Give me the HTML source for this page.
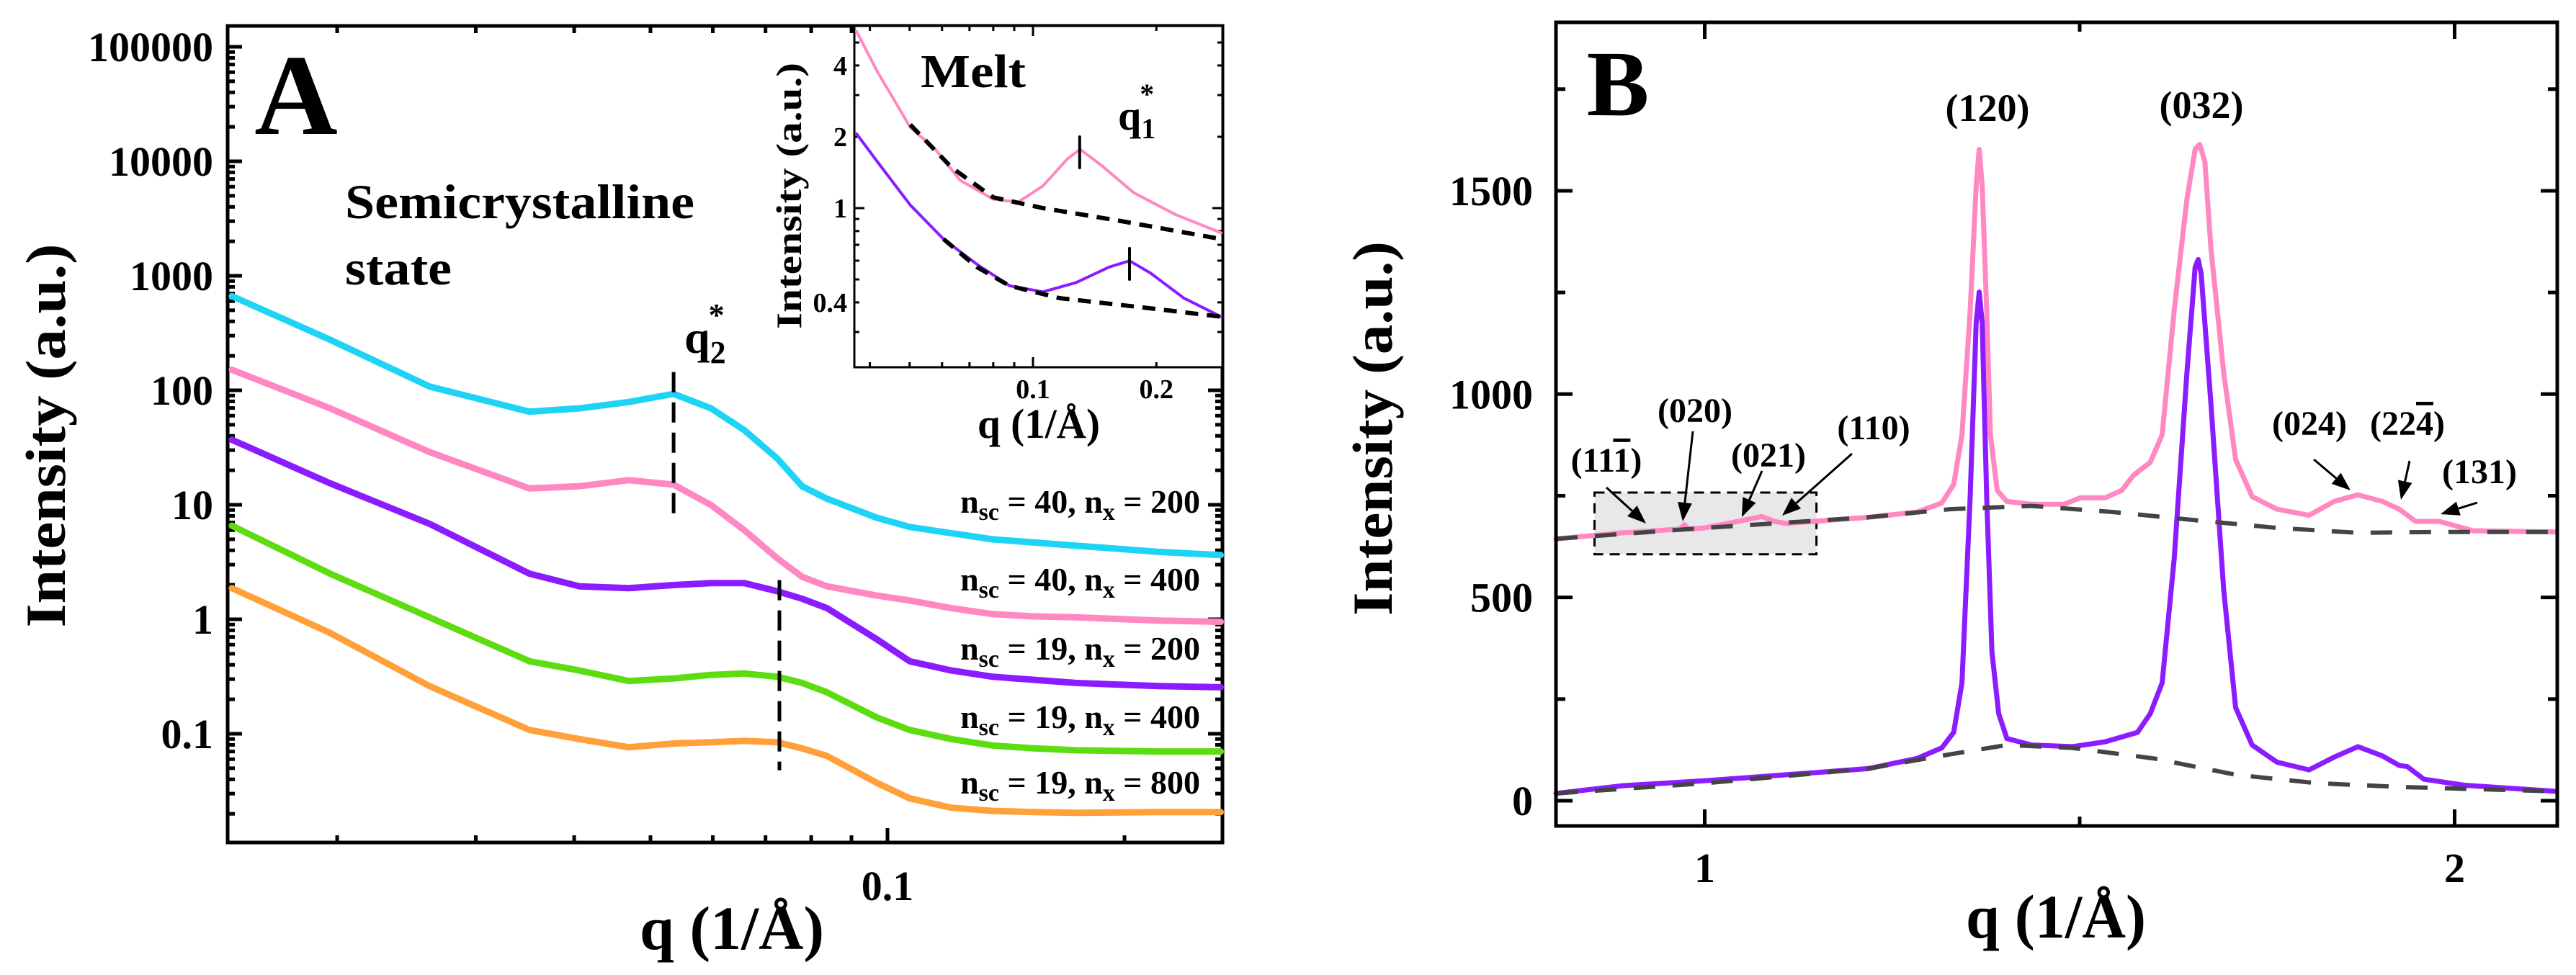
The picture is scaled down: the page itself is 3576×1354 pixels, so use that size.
<!DOCTYPE html>
<html><head><meta charset="utf-8"><title>SAXS/WAXS chart</title>
<style>
html,body{margin:0;padding:0;background:#fff;}
svg{display:block;font-family:"Liberation Serif","DejaVu Serif",serif;font-weight:bold;}
</style></head>
<body>
<svg id="fig" width="3576" height="1354" viewBox="0 0 3576 1354" xmlns="http://www.w3.org/2000/svg">
<rect x="0" y="0" width="3576" height="1354" fill="#fff"/>
<g id="gA"></g>
<g id="gI"></g>
<g id="gB"></g>
</svg>
<script>
// ---------- Panel A data ----------
const qA = [0.0147,0.0196,0.0262,0.0351,0.0406,0.0469,0.0535,0.0597,0.0658,0.0724,0.0779,0.0838,0.0969,0.1067,0.1205,0.136,0.1536,0.1734,0.2208,0.265];
const cyanA   = [665,276,108,65,69.5,79,93,69.5,44.8,25.5,14.5,11.3,7.7,6.4,5.65,4.99,4.68,4.4,3.88,3.64];
const pinkA   = [151,69.5,28.9,13.9,14.5,16.4,15.0,9.94,6.0,3.42,2.35,1.94,1.61,1.46,1.25,1.11,1.06,1.04,0.975,0.95];
const purpleA = [37,15.4,6.82,2.5,1.94,1.87,1.99,2.07,2.07,1.76,1.51,1.25,0.67,0.43,0.357,0.315,0.296,0.278,0.261,0.255];
const greenA  = [6.57,2.5,1.04,0.43,0.357,0.289,0.304,0.327,0.336,0.315,0.278,0.230,0.139,0.108,0.090,0.079,0.0745,0.0718,0.070,0.070];
const orangeA = [1.87,0.759,0.261,0.108,0.090,0.0763,0.0823,0.0844,0.0866,0.0844,0.0745,0.064,0.0373,0.0273,0.0226,0.0212,0.0207,0.0204,0.0207,0.0207];
const legendA = ["40|200","40|400","19|200","19|400","19|800"];
const yTicksA = [0.1,1,10,100,1000,10000,100000];
const yTickLabelsA = ["0.1","1","10","100","1000","10000","100000"];
const xTicksA = [0.1];
const xTickLabelsA = ["0.1"];
// ---------- Inset data ----------
const qInset = [0.0371,0.0417,0.0458,0.0502,0.0578,0.0664,0.080,0.092,0.1057,0.1216,0.1303,0.1465,0.1763,0.2224,0.2877];
const pinkInset = [5.57,3.77,2.87,2.19,1.77,1.31,1.09,1.06,1.24,1.62,1.77,1.52,1.16,0.94,0.786];
const qInsetP = [0.0371,0.0417,0.0502,0.0605,0.0729,0.0877,0.1057,0.1274,0.1535,0.172,0.1937,0.2334,0.2877];
const purpleInset = [2.06,1.57,1.03,0.74,0.58,0.47,0.443,0.485,0.564,0.599,0.531,0.417,0.348];
const qDashPink = [0.0502,0.0634,0.080,0.1057,0.1607,0.2877];
const dashPink = [2.25,1.48,1.11,1.0,0.887,0.74];
const qDashPurple = [0.0605,0.0729,0.0877,0.116,0.185,0.2877];
const dashPurple = [0.74,0.564,0.47,0.417,0.381,0.348];
const yTicksInset = [0.4,1,2,4];
const yTickLabelsInset = ["0.4","1","2","4"];
const xTicksInset = [0.1,0.2];
const xTickLabelsInset = ["0.1","0.2"];
// ---------- Panel B data ----------
const qBpink = [0.8017,0.891,0.967,0.973,0.978,1.0,1.044,1.076,1.093,1.109,1.218,1.283,1.316,1.332,1.343,1.354,1.362,1.366,1.370,1.376,1.381,1.390,1.403,1.436,1.479,1.501,1.534,1.556,1.572,1.594,1.610,1.626,1.643,1.654,1.660,1.667,1.675,1.692,1.708,1.730,1.763,1.806,1.839,1.871,1.904,1.926,1.948,1.980,2.024,2.136];
const pinkB = [644,659,668,679,668,671,687,699,687,682,697,710,732,778,900,1206,1511,1602,1511,1206,900,763,736,729,729,745,745,763,801,832,900,1206,1480,1602,1614,1572,1358,1053,839,748,717,702,736,752,736,717,687,687,664,661];
const qBpurple = [0.8017,0.891,1.0,1.109,1.218,1.283,1.316,1.332,1.343,1.354,1.362,1.366,1.370,1.376,1.383,1.392,1.403,1.436,1.490,1.534,1.577,1.594,1.610,1.626,1.643,1.654,1.658,1.662,1.675,1.692,1.708,1.730,1.763,1.806,1.839,1.871,1.904,1.926,1.937,1.959,2.013,2.136];
const purpleB = [18,37,49,64,79,104,130,168,290,748,1175,1251,1175,748,366,214,153,137,133,145,168,214,290,595,1053,1312,1331,1297,977,519,229,137,95,76,107,133,110,87,84,53,38,23];
const qDashB1 = [0.8017,1.0,1.218,1.327,1.436,1.545,1.654,1.763,1.871,1.980,2.136];
const dashB1 = [644,671,697,717,725,710,690,671,659,661,661];
const qDashB2 = [0.8017,1.0,1.218,1.327,1.403,1.490,1.599,1.708,1.817,1.926,2.136];
const dashB2 = [18,43,79,114,137,130,104,64,43,34,23];
const yTicksB = [0,500,1000,1500];
const yTickLabelsB = ["0","500","1000","1500"];
const xTicksB = [1,2];
const xTickLabelsB = ["1","2"];

// ---------- scales ----------
const L10 = Math.log10;
const A = {l:316,r:1697,t:36,b:1170};
const xA = q => 1232 + (L10(q)+1)*1093;
const yA = v => 65 + (5-L10(v))*159;
const I = {l:1186,r:1697,t:36,b:510};
const xI = q => 1434 + (L10(q)+1)*569;
const yI = v => 289 - L10(v)*329;
const B = {l:2160,r:3550,t:31,b:1147};
const xB = q => 2366.5 + (q-1)*1041;
const yB = v => 1112 - v*0.5647;

const NS = "http://www.w3.org/2000/svg";
function mk(parent, tag, attrs){
  const e = document.createElementNS(NS, tag);
  for (const k in attrs) e.setAttribute(k, attrs[k]);
  parent.appendChild(e);
  return e;
}
function pathD(xs, ys, fx, fy){
  return xs.map((q,i)=>(i?'L':'M')+fx(q).toFixed(1)+' '+fy(ys[i]).toFixed(1)).join(' ');
}
const gA = document.getElementById('gA');
const gI = document.getElementById('gI');
const gB = document.getElementById('gB');

function line(g, x1,y1,x2,y2,w,name){
  const e = mk(g,'line',{x1:x1,y1:y1,x2:x2,y2:y2,stroke:'#000','stroke-width':w});
  
  
  return e;
}
function text(g, x, y, s, size, anchor, name){
  const e = mk(g,'text',{x:x,y:y,'font-size':size,'text-anchor':anchor||'middle',fill:'#000'});
  e.textContent = s;
  
  
  return e;
}
function series(g, xs, ys, fx, fy, color, w, name, dash){
  const e = mk(g,'path',{d:pathD(xs,ys,fx,fy),fill:'none',stroke:color,'stroke-width':w,'stroke-linejoin':'round','stroke-linecap':dash?'butt':'round'});
  if (dash) e.setAttribute('stroke-dasharray', dash);
  
  
  return e;
}

// ===== Panel A =====
for (let d=-2; d<=5; d++){
  for (let m=1; m<=9; m++){
    const v = m*Math.pow(10,d);
    const y = yA(v);
    if (y < A.t+3 || y > A.b-3) continue;
    const len = m===1 ? 20 : 10;
    line(gA, A.l, y, A.l+len, y, 5, 'y-tick');
    line(gA, A.r-len, y, A.r, y, 5, 'y-tick-right');
  }
}
[0.02,0.03,0.04,0.05,0.06,0.07,0.08,0.09,0.1,0.2].forEach(q=>{
  const x = xA(q); const len = q===0.1 ? 20 : 10;
  line(gA, x, A.b, x, A.b-len, 5, 'x-tick');
  line(gA, x, A.t, x, A.t+len, 5, 'x-tick-top');
});
yTicksA.forEach((v,i)=>{ text(gA, 296, yA(v)+20, yTickLabelsA[i], 58, 'end', 'y-tick-label'); });
xTicksA.forEach((q,i)=>{ text(gA, xA(q), 1250, xTickLabelsA[i], 58, 'middle', 'x-tick-label'); });
const fa = mk(gA,'rect',{x:A.l,y:A.t,width:A.r-A.l,height:A.b-A.t,fill:'none',stroke:'#000','stroke-width':5});



series(gA, qA, cyanA, xA, yA, '#1fd3f5', 9, 'series-nsc40-nx200');
series(gA, qA, pinkA, xA, yA, '#ff88c2', 9, 'series-nsc40-nx400');
series(gA, qA, purpleA, xA, yA, '#8a1cff', 9, 'series-nsc19-nx200');
series(gA, qA, greenA, xA, yA, '#5edc12', 9, 'series-nsc19-nx400');
series(gA, qA, orangeA, xA, yA, '#ffa038', 9, 'series-nsc19-nx800');

series(gA, [0.0535,0.0535], [144,7.7], xA, yA, '#000', 5, 'q2-marker-1', '28 14');
series(gA, [0.0729,0.0729], [2.2,0.048], xA, yA, '#000', 5, 'q2-marker-2', '28 14');

text(gA, 411, 186, 'A', 160, 'middle', 'panel-label-a');
const t1 = text(gA, 479, 303, 'Semicrystalline', 68, 'start', 'annotation-semicrystalline');
t1.setAttribute('textLength','485'); t1.setAttribute('lengthAdjust','spacingAndGlyphs');
const t2 = text(gA, 479, 395, 'state', 68, 'start', 'annotation-state');
t2.setAttribute('textLength','148'); t2.setAttribute('lengthAdjust','spacingAndGlyphs');
const q2 = mk(gA,'text',{x:950,y:490,'font-size':64,'text-anchor':'start'});
q2.innerHTML = 'q<tspan dy="14" font-size="44">2</tspan><tspan dx="-24" dy="-52" font-size="44">*</tspan>';



const legY = [712, 820, 916, 1011, 1102];
legendA.forEach((s,i)=>{
  const [nsc,nx] = s.split('|');
  const e = mk(gA,'text',{x:1666,y:legY[i],'font-size':46,'text-anchor':'end'});
  e.innerHTML = 'n<tspan dy="10" font-size="34">sc</tspan><tspan dy="-10"> = '+nsc+', n</tspan><tspan dy="10" font-size="34">x</tspan><tspan dy="-10"> = '+nx+'</tspan>';
  
  
});
const ya = text(gA, 0, 0, 'Intensity (a.u.)', 78, 'middle', 'y-axis-title-a');
ya.setAttribute('transform','translate(90,605) rotate(-90)');
ya.setAttribute('textLength','533'); ya.setAttribute('lengthAdjust','spacingAndGlyphs');
const xa = text(gA, 1016, 1318, 'q (1/Å)', 86, 'middle', 'x-axis-title-a');
xa.setAttribute('textLength','256'); xa.setAttribute('lengthAdjust','spacingAndGlyphs');

// ===== Inset =====
const ib = mk(gI,'rect',{x:I.l,y:I.t,width:I.r-I.l,height:I.b-I.t,fill:'#fff',stroke:'#000','stroke-width':3});


[0.3,0.4,0.5,0.6,0.7,0.8,0.9,1,2,3,4,5].forEach(v=>{
  const y = yI(v); if (y<I.t+2||y>I.b-2) return;
  const len = (v===1)?14:7;
  line(gI, I.l, y, I.l+len, y, 3, 'inset-y-tick');
  line(gI, I.r-len, y, I.r, y, 3, 'inset-y-tick-right');
});
[0.04,0.05,0.06,0.07,0.08,0.09,0.1,0.2].forEach(q=>{
  const x = xI(q); const len = q===0.1?14:7;
  line(gI, x, I.b, x, I.b-len, 3, 'inset-x-tick');
  line(gI, x, I.t, x, I.t+len, 3, 'inset-x-tick-top');
});
yTicksInset.forEach((v,i)=>{ text(gI, 1176, yI(v)+13, yTickLabelsInset[i], 38, 'end', 'inset-y-tick-label'); });
xTicksInset.forEach((q,i)=>{ text(gI, xI(q), 553, xTickLabelsInset[i], 38, 'middle', 'inset-x-tick-label'); });
series(gI, qInset, pinkInset, xI, yI, '#ff88c2', 4, 'inset-series-pink');
series(gI, qInsetP, purpleInset, xI, yI, '#8a1cff', 4, 'inset-series-purple');
series(gI, qDashPink, dashPink, xI, yI, '#000', 6, 'inset-fit-pink', '18 12');
series(gI, qDashPurple, dashPurple, xI, yI, '#000', 6, 'inset-fit-purple', '18 12');
series(gI, [0.130,0.130], [2.0,1.48], xI, yI, '#000', 4, 'q1-marker-pink');
series(gI, [0.172,0.172], [0.676,0.50], xI, yI, '#000', 4, 'q1-marker-purple');
const mt = text(gI, 1278, 121, 'Melt', 66, 'start', 'inset-label-melt');
mt.setAttribute('textLength','146'); mt.setAttribute('lengthAdjust','spacingAndGlyphs');
const q1 = mk(gI,'text',{x:1552,y:180,'font-size':58,'text-anchor':'start'});
q1.innerHTML = 'q<tspan dy="12" font-size="40">1</tspan><tspan dx="-22" dy="-48" font-size="40">*</tspan>';


const yi = text(gI, 0, 0, 'Intensity (a.u.)', 50, 'middle', 'inset-y-axis-title');
yi.setAttribute('transform','translate(1112,272) rotate(-90)');
yi.setAttribute('textLength','370'); yi.setAttribute('lengthAdjust','spacingAndGlyphs');
const xi = text(gI, 1442, 608, 'q (1/Å)', 58, 'middle', 'inset-x-axis-title');
xi.setAttribute('textLength','170'); xi.setAttribute('lengthAdjust','spacingAndGlyphs');

// ===== Panel B =====
const box = mk(gB,'rect',{x:xB(0.853),y:yB(758),width:xB(1.149)-xB(0.853),height:yB(606)-yB(758),fill:'#e8e8e8',stroke:'#000','stroke-width':3,'stroke-dasharray':'14 9'});


[0,250,500,750,1000,1250,1500,1750].forEach(v=>{
  const y = yB(v); const len = (v%500===0)?23:13;
  line(gB, B.l, y, B.l+len, y, 5, 'y-tick');
  line(gB, B.r-len, y, B.r, y, 5, 'y-tick-right');
});
[1,1.5,2].forEach(q=>{
  const x = xB(q); const len = (q%1===0)?23:13;
  line(gB, x, B.b, x, B.b-len, 5, 'x-tick');
  line(gB, x, B.t, x, B.t+len, 5, 'x-tick-top');
});
yTicksB.forEach((v,i)=>{ text(gB, 2128, yB(v)+20, yTickLabelsB[i], 58, 'end', 'y-tick-label'); });
xTicksB.forEach((q,i)=>{ text(gB, xB(q), 1225, xTickLabelsB[i], 58, 'middle', 'x-tick-label'); });
series(gB, qBpink, pinkB, xB, yB, '#ff88c2', 7, 'series-pink-b');
series(gB, qBpurple, purpleB, xB, yB, '#8a1cff', 7, 'series-purple-b');
series(gB, qDashB1, dashB1, xB, yB, '#444', 6, 'baseline-pink-b', '30 24');
series(gB, qDashB2, dashB2, xB, yB, '#444', 6, 'baseline-purple-b', '30 24');
const fb = mk(gB,'rect',{x:B.l,y:B.t,width:B.r-B.l,height:B.b-B.t,fill:'none',stroke:'#000','stroke-width':5});



text(gB, 2246, 160, 'B', 130, 'middle', 'panel-label-b');
text(gB, 2759, 168, '(120)', 54, 'middle', 'peak-label-120');
text(gB, 3056, 164, '(032)', 54, 'middle', 'peak-label-032');
const pk = [
  ['(020)',2353,586,'peak-label-020'],['(021)',2455,648,'peak-label-021'],
  ['(110)',2601,610,'peak-label-110'],['(024)',3206,604,'peak-label-024'],['(131)',3442,671,'peak-label-131']];
pk.forEach(p=>{ text(gB, p[1], p[2], p[0], 48, 'middle', p[3]); });
const l111 = mk(gB,'text',{x:2230,y:655,'font-size':48,'text-anchor':'middle'});
l111.innerHTML = '(11<tspan text-decoration="overline">1</tspan>)';


const l224 = mk(gB,'text',{x:3342,y:604,'font-size':48,'text-anchor':'middle'});
l224.innerHTML = '(22<tspan text-decoration="overline">4</tspan>)';


const arrows = [[2230,677,2285,727],[2350,599,2336,724],[2446,654,2418,718],[2571,630,2474,716],[3212,638,3263,681],[3345,640,3333,694],[3439,698,3388,714]];
arrows.forEach(a=>{
  const [x1,y1,x2,y2]=a;
  const dx=x2-x1, dy=y2-y1, L=Math.hypot(dx,dy), ux=dx/L, uy=dy/L;
  const hl=26, hw=10;
  const bx=x2-ux*hl, by=y2-uy*hl;
  line(gB, x1,y1,bx,by,3,'arrow-shaft');
  const h = mk(gB,'polygon',{points:`${x2},${y2} ${bx-uy*hw},${by+ux*hw} ${bx+uy*hw},${by-ux*hw}`,fill:'#000'});
  
  
});
const yb = text(gB, 0, 0, 'Intensity (a.u.)', 78, 'middle', 'y-axis-title-b');
yb.setAttribute('transform','translate(1932,595) rotate(-90)');
yb.setAttribute('textLength','520'); yb.setAttribute('lengthAdjust','spacingAndGlyphs');
const xb = text(gB, 2854, 1302, 'q (1/Å)', 86, 'middle', 'x-axis-title-b');
xb.setAttribute('textLength','250'); xb.setAttribute('lengthAdjust','spacingAndGlyphs');
</script>
</body></html>
